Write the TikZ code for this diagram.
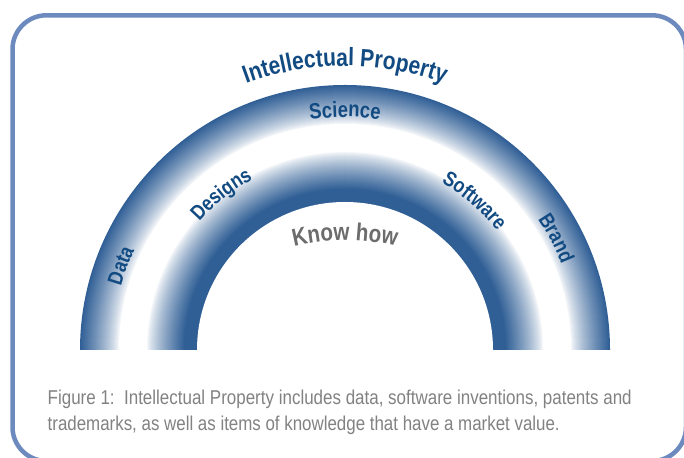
\documentclass[tikz,border=0pt]{standalone}
\usepackage{fontspec}
\usepackage{graphicx}
\setmainfont{Liberation Sans}
\newfontfamily\arcfont[FakeStretch=0.84]{Liberation Sans}
\usetikzlibrary{decorations.text}

\definecolor{ringblue}{RGB}{48,95,150}
\definecolor{labelblue}{RGB}{18,74,130}
\definecolor{framecol}{RGB}{108,138,190}
\definecolor{knowgray}{RGB}{108,108,108}
\definecolor{capgray}{RGB}{130,130,130}

\begin{document}
\begin{tikzpicture}[x=1pt,y=1pt,
  framebox/.style={draw=framecol, line width=4.5pt, rounded corners=34pt},
  arctext/.style n args={3}{decorate, decoration={text along path, text align=center,
      text color=#2, text={|\arcfont\bfseries\fontsize{#1}{#1}\selectfont|#3}}},
  captext/.style={anchor=base west, inner sep=0pt, text=capgray, font=\fontsize{20}{24}\selectfont},
]
\useasboundingbox (0,0) rectangle (684,457);
\fill[white] (0,0) rectangle (684,457);

% outer rounded frame
\draw[framebox] (12.5,441.7) rectangle (686,-4);

% shaded arch: concentric half-disks, dark at both edges, white in the middle
\coordinate (c) at (345,107);
\foreach \r in {265,264,...,149}{
  \pgfmathsetmacro\outerramp{100*(min(max((\r-226)/39,0.001),1))^0.8}
  \pgfmathsetmacro\innerramp{100*(min(max((199-\r)/38,0.001),1))^0.8}
  \pgfmathsetmacro\ringmix{\r>226 ? \outerramp : (\r>=199 ? 0 : \innerramp)}
  \fill[ringblue!\ringmix!white] ([xshift=\r pt]c) arc[start angle=0,end angle=180,radius=\r] -- cycle;
}
\fill[white] ([xshift=148pt]c) arc[start angle=0,end angle=180,radius=148] -- cycle;

% curved labels
\path[arctext={25}{labelblue}{Intellectual Property}] ([shift={(135:284)}]c) arc[start angle=135,end angle=45,radius=284];
\path[arctext={22}{labelblue}{Science}] ([shift={(130:233)}]c) arc[start angle=130,end angle=50,radius=233];
\path[arctext={21}{labelblue}{Data}] ([shift={(189.4:233)}]c) arc[start angle=189.4,end angle=129.4,radius=233];
\path[arctext={21}{labelblue}{Brand}] ([shift={(57.9:233)}]c) arc[start angle=57.9,end angle=-2.1,radius=233];
\path[arctext={21}{labelblue}{Designs}] ([shift={(163.5:194)}]c) arc[start angle=163.5,end angle=93.5,radius=194];
\path[arctext={21}{labelblue}{Software}] ([shift={(84:193)}]c) arc[start angle=84,end angle=14,radius=193];

\coordinate (kc) at (345,12);
\path[arctext={24.5}{knowgray}{Know how}] ([shift={(120:205)}]kc) arc[start angle=120,end angle=60,radius=205];

% caption
\node[captext] (cap1) at (47.5,52.7) {\resizebox{584pt}{\height}{Figure 1:\ \ Intellectual Property includes data, software inventions, patents and}};
\node[captext] (cap2) at (47.5,27) {\resizebox{512pt}{\height}{trademarks, as well as items of knowledge that have a market value.}};
\end{tikzpicture}
\end{document}
